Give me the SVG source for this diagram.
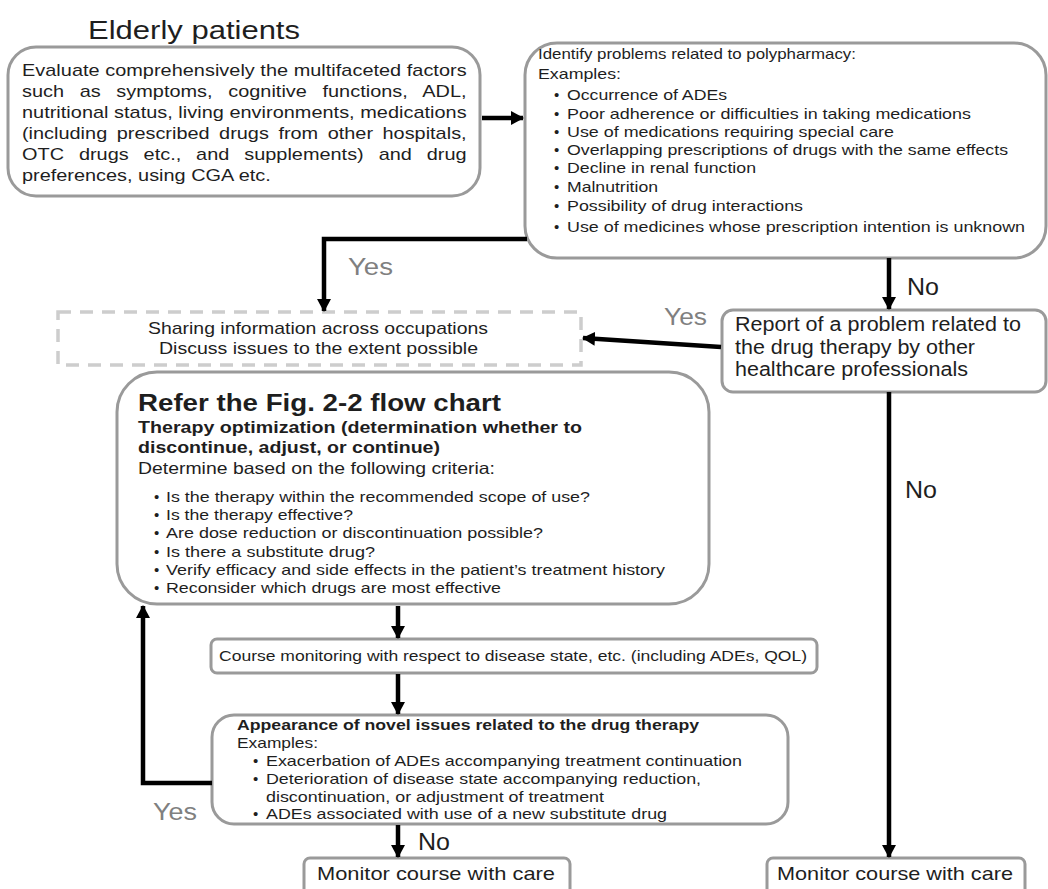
<svg xmlns="http://www.w3.org/2000/svg" width="1048" height="889" viewBox="0 0 1048 889">
<defs>
<marker id="ah" markerUnits="userSpaceOnUse" markerWidth="14" markerHeight="14" refX="12" refY="7" orient="auto">
<path d="M0,0 L13,7 L0,14 z" fill="#000"/>
</marker>
<style>
text{font-family:"Liberation Sans",Arial,sans-serif;fill:#1e1e1e}
.box{fill:#fff;stroke:#9a9a9a;stroke-width:3}
.dash{fill:none;stroke:#cdcdcd;stroke-width:3.5;stroke-dasharray:13 9}
.con{fill:none;stroke:#000;stroke-width:4.5}
.f15{font-size:15px}
.f17{font-size:17px}
.lab{font-size:23px}
.gray{fill:#808080}
.bold{font-weight:bold}
</style>
</defs>
<rect width="1048" height="889" fill="#fff"/>

<text x="88" y="39" style="font-size:26.5px" textLength="212" lengthAdjust="spacingAndGlyphs">Elderly patients</text>

<g id="evaluate">
<rect class="box" x="8" y="47" width="472" height="149" rx="28"/>
<g class="f17" transform="translate(22 0) scale(1.17 1)">
<text x="0" y="76" textLength="380" lengthAdjust="spacing">Evaluate comprehensively the multifaceted factors</text>
<text x="0" y="97" textLength="380" lengthAdjust="spacing" word-spacing="8.6">such as symptoms, cognitive functions, ADL,</text>
<text x="0" y="118" textLength="380" lengthAdjust="spacing">nutritional status, living environments, medications</text>
<text x="0" y="139" textLength="380" lengthAdjust="spacing" word-spacing="3.4">(including prescribed drugs from other hospitals,</text>
<text x="0" y="160" textLength="380" lengthAdjust="spacing" word-spacing="8">OTC drugs etc., and supplements) and drug</text>
<text x="0" y="181">preferences, using CGA etc.</text>
</g>
</g>

<g id="identify">
<rect class="box" x="525" y="43" width="521" height="215" rx="32"/>
<text class="f15" x="538" y="59" textLength="318" lengthAdjust="spacingAndGlyphs">Identify problems related to polypharmacy:</text>
<text class="f15" x="538" y="79" textLength="83" lengthAdjust="spacingAndGlyphs">Examples:</text>
<g class="f15">
<text x="554" y="100">•</text><text x="567" y="100" textLength="160" lengthAdjust="spacingAndGlyphs">Occurrence of ADEs</text>
<text x="554" y="119">•</text><text x="567" y="119" textLength="404" lengthAdjust="spacingAndGlyphs">Poor adherence or difficulties in taking medications</text>
<text x="554" y="137">•</text><text x="567" y="137" textLength="327" lengthAdjust="spacingAndGlyphs">Use of medications requiring special care</text>
<text x="554" y="155">•</text><text x="567" y="155" textLength="441" lengthAdjust="spacingAndGlyphs">Overlapping prescriptions of drugs with the same effects</text>
<text x="554" y="173">•</text><text x="567" y="173" textLength="189" lengthAdjust="spacingAndGlyphs">Decline in renal function</text>
<text x="554" y="192">•</text><text x="567" y="192" textLength="91" lengthAdjust="spacingAndGlyphs">Malnutrition</text>
<text x="554" y="211">•</text><text x="567" y="211" textLength="236" lengthAdjust="spacingAndGlyphs">Possibility of drug interactions</text>
<text x="554" y="232">•</text><text x="567" y="232" textLength="458" lengthAdjust="spacingAndGlyphs">Use of medicines whose prescription intention is unknown</text>
</g>
</g>

<g id="sharing">
<rect class="dash" x="58" y="312" width="523" height="53"/>
<text class="f17" x="148" y="334" textLength="340" lengthAdjust="spacingAndGlyphs">Sharing information  across occupations</text>
<text class="f17" x="159" y="354" textLength="319" lengthAdjust="spacingAndGlyphs">Discuss issues to the extent possible</text>
</g>

<g id="report">
<rect class="box" x="722" y="310" width="324" height="82" rx="11"/>
<text x="735" y="331" style="font-size:19.5px" textLength="286" lengthAdjust="spacingAndGlyphs">Report of a problem related to</text>
<text x="735" y="354" style="font-size:19.5px" textLength="240" lengthAdjust="spacingAndGlyphs">the drug therapy by other</text>
<text x="735" y="376" style="font-size:19.5px" textLength="233" lengthAdjust="spacingAndGlyphs">healthcare professionals</text>
</g>

<g id="optimization">
<rect class="box" x="117" y="372" width="592" height="232" rx="40"/>
<text class="bold" x="138" y="411" style="font-size:24px" textLength="363" lengthAdjust="spacingAndGlyphs">Refer the Fig. 2-2 flow chart</text>
<text class="bold f17" x="138" y="433" textLength="444" lengthAdjust="spacingAndGlyphs">Therapy optimization (determination whether to</text>
<text class="bold f17" x="138" y="453" textLength="302" lengthAdjust="spacingAndGlyphs">discontinue, adjust, or continue)</text>
<text x="138" y="474" style="font-size:16.5px" textLength="357" lengthAdjust="spacingAndGlyphs">Determine based on the following criteria:</text>
<g class="f15">
<text x="154" y="502">•</text><text x="166" y="502" textLength="424" lengthAdjust="spacingAndGlyphs">Is the therapy within the recommended scope of use?</text>
<text x="154" y="520">•</text><text x="166" y="520" textLength="187" lengthAdjust="spacingAndGlyphs">Is the therapy effective?</text>
<text x="154" y="538">•</text><text x="166" y="538" textLength="377" lengthAdjust="spacingAndGlyphs">Are dose reduction or discontinuation possible?</text>
<text x="154" y="557">•</text><text x="166" y="557" textLength="209" lengthAdjust="spacingAndGlyphs">Is there a substitute drug?</text>
<text x="154" y="575">•</text><text x="166" y="575" textLength="499" lengthAdjust="spacingAndGlyphs">Verify efficacy and side effects in the patient’s treatment history</text>
<text x="154" y="593">•</text><text x="166" y="593" textLength="335" lengthAdjust="spacingAndGlyphs">Reconsider which drugs are most effective</text>
</g>
</g>

<g id="course">
<rect class="box" x="211" y="639" width="606" height="34" rx="6"/>
<text class="f15" x="219" y="661" textLength="588" lengthAdjust="spacingAndGlyphs">Course monitoring with respect to disease state, etc. (including ADEs, QOL)</text>
</g>

<g id="appearance">
<rect class="box" x="212" y="715" width="576" height="109" rx="22"/>
<text class="bold f15" x="237" y="730" textLength="462" lengthAdjust="spacingAndGlyphs">Appearance of novel issues related to the drug therapy</text>
<text class="f15" x="237" y="748" textLength="81" lengthAdjust="spacingAndGlyphs">Examples:</text>
<g class="f15">
<text x="253" y="766">•</text><text x="266" y="766" textLength="476" lengthAdjust="spacingAndGlyphs">Exacerbation of ADEs accompanying treatment continuation</text>
<text x="253" y="784">•</text><text x="266" y="784" textLength="435" lengthAdjust="spacingAndGlyphs">Deterioration of disease state accompanying reduction,</text>
<text x="266" y="802" textLength="338" lengthAdjust="spacingAndGlyphs">discontinuation, or adjustment of treatment</text>
<text x="253" y="819">•</text><text x="266" y="819" textLength="401" lengthAdjust="spacingAndGlyphs">ADEs associated with use of a new substitute drug</text>
</g>
</g>

<g id="monitor-left">
<rect class="box" x="304" y="858" width="266" height="40" rx="6"/>
<text x="317" y="880" style="font-size:18.5px" textLength="238" lengthAdjust="spacingAndGlyphs">Monitor course with care</text>
</g>

<g id="monitor-right">
<rect class="box" x="767" y="858" width="258" height="40" rx="6"/>
<text x="777" y="880" style="font-size:18.5px" textLength="236" lengthAdjust="spacingAndGlyphs">Monitor course with care</text>
</g>

<g id="connectors">
<line class="con" x1="482" y1="118" x2="523" y2="118" marker-end="url(#ah)"/>
<polyline class="con" points="527,239 324,239 324,311" marker-end="url(#ah)"/>
<line class="con" x1="889" y1="258" x2="889" y2="309" marker-end="url(#ah)"/>
<line class="con" x1="721" y1="347" x2="583" y2="338" marker-end="url(#ah)"/>
<line class="con" x1="889" y1="392" x2="889" y2="857" marker-end="url(#ah)"/>
<line class="con" x1="398" y1="606" x2="398" y2="638" marker-end="url(#ah)"/>
<line class="con" x1="398" y1="674" x2="398" y2="714" marker-end="url(#ah)"/>
<polyline class="con" points="212,783 143,783 143,606" marker-end="url(#ah)"/>
<line class="con" x1="398" y1="825" x2="398" y2="857" marker-end="url(#ah)"/>
</g>

<g id="labels">
<text class="lab gray" x="348" y="275" textLength="45" lengthAdjust="spacingAndGlyphs">Yes</text>
<text class="lab" x="907" y="295" textLength="32" lengthAdjust="spacingAndGlyphs">No</text>
<text class="lab gray" x="664" y="325" textLength="43" lengthAdjust="spacingAndGlyphs">Yes</text>
<text class="lab" x="905" y="498" textLength="32" lengthAdjust="spacingAndGlyphs">No</text>
<text class="lab gray" x="153" y="820" textLength="44" lengthAdjust="spacingAndGlyphs">Yes</text>
<text class="lab" x="418" y="850" textLength="32" lengthAdjust="spacingAndGlyphs">No</text>
</g>
</svg>
